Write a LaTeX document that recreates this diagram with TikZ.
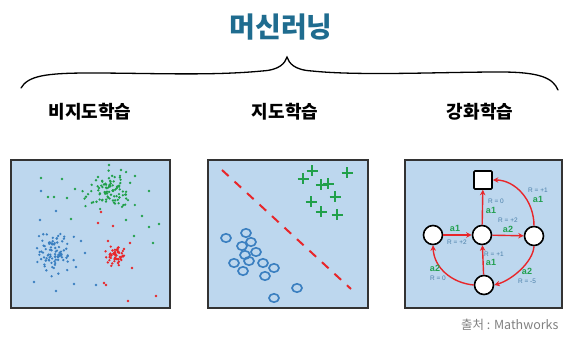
\documentclass[tikz,border=0pt]{standalone}
\usepackage{fontspec}
\newfontfamily\kr{Noto Sans CJK KR}
\setmainfont{Liberation Sans}
\usetikzlibrary{arrows.meta}
\definecolor{titleblue}{HTML}{1F6C8F}
\definecolor{panelfill}{HTML}{BDD7EE}
\definecolor{gdot}{HTML}{21A04A}
\definecolor{bdot}{HTML}{3A7FC0}
\definecolor{rdot}{HTML}{E8262A}
\definecolor{lblblue}{HTML}{4A7FA8}
\definecolor{lblgreen}{HTML}{22A050}
\tikzset{
  panel/.style={draw=black!80, line width=1.8, fill=panelfill},
  state/.style={circle, draw=black, line width=1.6, fill=white, minimum size=19, inner sep=0},
  goal/.style={rectangle, draw=black, line width=1.6, fill=white, minimum size=18, inner sep=0, rounded corners=1},
  rarrow/.style={draw=rdot, line width=1.4, -{Stealth[length=5.5,width=5.5]}},
  rlbl/.style={text=lblblue, font=\fontsize{6.5}{7}\selectfont, inner sep=0},
  albl/.style={text=lblgreen, font=\bfseries\fontsize{9}{10}\selectfont, inner sep=0},
  plus/.style={draw=gdot, line width=2},
  ring/.style={draw=bdot, line width=1.6},
  sub/.style={font=\kr\bfseries\fontsize{18}{20}\selectfont},
}
\begin{document}
\begin{tikzpicture}[x=1pt,y=-1pt]
\useasboundingbox (0,0) rectangle (563,339);
% title
\node[text=titleblue, font=\kr\bfseries\fontsize{28}{30}\selectfont] (title) at (281,27) {머신러닝};
% brace
\draw[line width=1.3, line cap=round] (21,88) .. controls (28,76) and (45,73) .. (90,73)
  .. controls (150,73) and (210,76) .. (262,71) .. controls (280,70) and (285,63) .. (287,57)
  .. controls (289,63) and (294,70) .. (312,71) .. controls (360,76) and (440,72) .. (500,72)
  .. controls (540,72) and (553,78) .. (558,90);
% subtitles
\node[sub] (t1) at (90,112) {비지도학습};
\node[sub] (t2) at (285,112) {지도학습};
\node[sub] (t3) at (480,112) {강화학습};
% panels
\node[panel, minimum width=159, minimum height=148, anchor=north west] (p1) at (10,159) {};
\node[panel, minimum width=160, minimum height=148, anchor=north west] (p2) at (207,159) {};
\node[panel, minimum width=157, minimum height=148, anchor=north west] (p3) at (404,159) {};
% panel 1 scatter
\pgfmathsetseed{11}
\foreach \i in {1,...,95}{
  \pgfmathsetmacro\px{108+10*(rand+rand+rand)}
  \pgfmathsetmacro\py{192+8.5*(rand+rand+rand)}
  \fill[gdot] (\px,\py) circle (1.3);
}
\foreach \i in {1,...,90}{
  \pgfmathsetmacro\px{54+8.5*(rand+rand+rand)}
  \pgfmathsetmacro\py{254+9.5*(rand+rand+rand)}
  \fill[bdot] (\px,\py) circle (1.3);
}
\foreach \i in {1,...,50}{
  \pgfmathsetmacro\px{115+5*(rand+rand+rand)}
  \pgfmathsetmacro\py{256+4.5*(rand+rand+rand)}
  \fill[rdot] (\px,\py) circle (1.3);
}
\foreach \px/\py in {101/212,98/223,108/241,113/226,124/249,130/243,132/268,104/283,106/285,120/257,118/263}{
  \fill[rdot] (\px,\py) circle (1.3);}
\foreach \px/\py in {128/301,156/296}{\fill[rdot] (\px,\py) circle (1.3);}
\foreach \px/\py in {41/178,62/179,75/189,67/198,54/197,71/219,48/197,98/177,109/165,121/170,135/176,149/191,142/216,149/227,159/224,153/243,134/236,126/220}{
  \fill[gdot] (\px,\py) circle (1.3);}
\foreach \px/\py in {41/191,56/211,40/220,34/282,56/291,74/284,96/285,81/241,85/253,76/267}{
  \fill[bdot] (\px,\py) circle (1.3);}
% panel 2
\draw[draw=rdot, line width=2, dash pattern=on 9 off 8] (222,170) -- (351,289);
\foreach \px/\py in {303/179,312/171,347/173,321/185,328/184,335/197,311/202,321/212,337/215}{
  \draw[plus] (\px-5.5,\py) -- (\px+5.5,\py) (\px,\py-5.5) -- (\px,\py+5.5);}
\foreach \px/\py in {226/238,246/233,251/242,242/246,256/252,245/255,249/261,234/263,243/271,263/263,274/268,265/276,297/288,274/298}{
  \draw[ring] (\px,\py) ellipse (5 and 4.2);}
% panel 3
\node[goal] (sq) at (483,180) {};
\node[state] (l) at (433,235) {};
\node[state] (c) at (482,235) {};
\node[state] (r) at (534,236) {};
\node[state] (b) at (484,285) {};
\draw[rarrow] (c) -- (sq);
\draw[rarrow] (l) -- (c);
\draw[rarrow] (c) -- (r);
\draw[rarrow] (b) -- (c);
\draw[rarrow] (r.north) .. controls (534,200) and (515,180) .. (sq.east);
\draw[rarrow] (r.south) .. controls (533,262) and (512,280) .. (b.east);
\draw[rarrow] (b.west) .. controls (452,283) and (434,268) .. (l.south);
\node[rlbl] (rl1) at (496,201) {R = 0};
\node[albl] (al1) at (491,210) {a1};
\node[albl] (al2) at (455,228) {a1};
\node[rlbl] (rl2) at (457,242) {R = +2};
\node[rlbl] (rl3) at (508,220) {R = +2};
\node[albl] (al3) at (508,229) {a2};
\node[rlbl] (rl4) at (538,190) {R = +1};
\node[albl] (al4) at (538,199) {a1};
\node[rlbl] (rl5) at (494,254) {R = +1};
\node[albl] (al5) at (491,262) {a1};
\node[albl] (al6) at (527,271) {a2};
\node[rlbl] (rl6) at (527,281) {R = -5};
\node[albl] (al7) at (435,268) {a2};
\node[rlbl] (rl7) at (438,278) {R = 0};
% source
\node[text=black!50, font=\kr\fontsize{12.5}{14}\selectfont, anchor=east] (src) at (562,325) {출처 : Mathworks};
\end{tikzpicture}
\end{document}
